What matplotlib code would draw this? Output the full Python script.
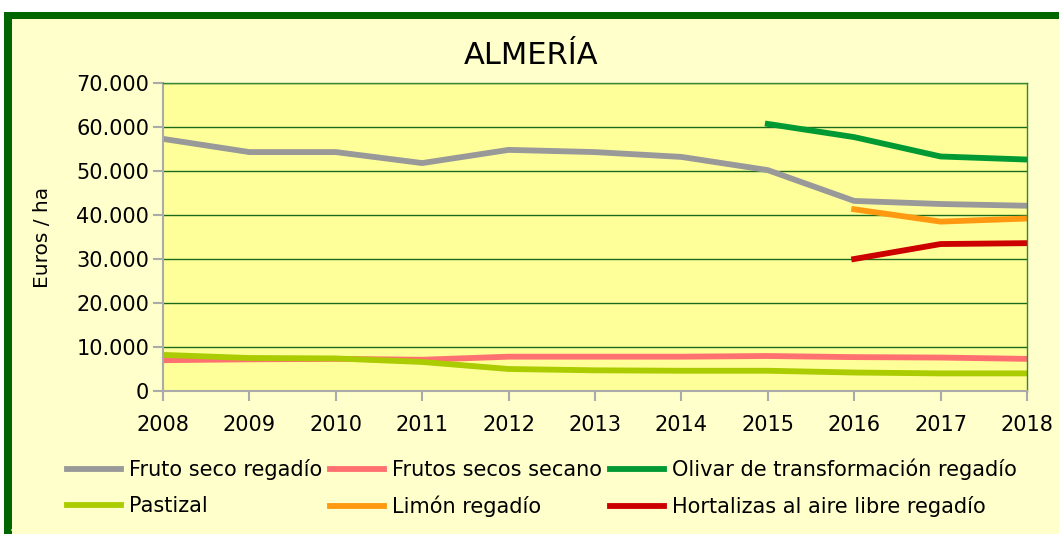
import matplotlib.pyplot as plt
from matplotlib.patches import Rectangle
from matplotlib.lines import Line2D
from matplotlib.ticker import FuncFormatter

# datos (euros / ha)
years = [2008, 2009, 2010, 2011, 2012, 2013, 2014, 2015, 2016, 2017, 2018]
fruto_seco_regadio = [57300, 54300, 54300, 51800, 54800, 54300, 53200, 50200, 43200, 42500, 42100]
frutos_secos_secano = [7000, 7200, 7300, 7100, 7800, 7800, 7800, 7950, 7700, 7600, 7300]
pastizal = [8200, 7500, 7400, 6600, 5000, 4700, 4600, 4600, 4200, 4000, 4000]
olivar_years = [2015, 2016, 2017, 2018]
olivar = [60700, 57700, 53300, 52600]
limon_years = [2016, 2017, 2018]
limon = [41300, 38500, 39200]
hortalizas_years = [2016, 2017, 2018]
hortalizas = [30000, 33400, 33600]

fig = plt.figure(figsize=(10.59, 5.34), dpi=100)
fig.patch.set_facecolor('white')

# marco verde del grafico
fig.patches.append(Rectangle((4 / 1059, -0.05), 1.1, 1 - 12 / 534 + 0.05,
                             transform=fig.transFigure, facecolor='#006600',
                             edgecolor='none', zorder=-2))
fig.patches.append(Rectangle((12 / 1059, -0.05), 1.1, 1 - 19 / 534 + 0.05,
                             transform=fig.transFigure, facecolor='#FFFFCC',
                             edgecolor='none', zorder=-1))
fig.lines.append(Line2D([12 / 1059, 1], [4 / 534, 4 / 534], transform=fig.transFigure,
                        color='#99CC66', lw=1.5, zorder=-1))

ax = fig.add_axes([163 / 1059, 1 - 391 / 534, 864 / 1059, 308 / 534])
ax.set_zorder(2)
ax.set_facecolor('#FFFF99')

lw = 4.2
l1, = ax.plot(years, fruto_seco_regadio, color='#999999', lw=lw, label='Fruto seco regadío')
l2, = ax.plot(years, frutos_secos_secano, color='#FF7070', lw=lw, label='Frutos secos secano')
l3, = ax.plot(olivar_years, olivar, color='#009933', lw=lw, label='Olivar de transformación regadío')
l4, = ax.plot(years, pastizal, color='#AACC00', lw=lw, label='Pastizal')
l5, = ax.plot(limon_years, limon, color='#FF9911', lw=lw, label='Limón regadío')
l6, = ax.plot(hortalizas_years, hortalizas, color='#CC0000', lw=lw, label='Hortalizas al aire libre regadío')

ax.set_xlim(2008, 2018)
ax.set_ylim(0, 70000)
ax.set_xticks(years)
ax.set_yticks(range(0, 70001, 10000))
ax.yaxis.set_major_formatter(FuncFormatter(lambda v, p: f'{int(v):,}'.replace(',', '.')))
ax.grid(axis='y', color='#1B6B1B', lw=1)
ax.set_axisbelow(True)

for s in ['left', 'bottom']:
    ax.spines[s].set_color('#AAAAAA')
    ax.spines[s].set_linewidth(1.5)
for s in ['top', 'right']:
    ax.spines[s].set_color('#338833')
    ax.spines[s].set_linewidth(1)

ax.tick_params(axis='both', colors='#AAAAAA', labelcolor='black', labelsize=15, width=1.5)
ax.tick_params(axis='y', length=7, pad=3)
ax.tick_params(axis='x', length=7, pad=10)

ax.set_ylabel('Euros / ha', fontsize=14.5)
ax.yaxis.set_label_coords(-0.128, 0.5)

fig.text(531 / 1059, 1 - 55 / 534, 'ALMERÍA', ha='center', va='center',
         fontsize=22, fontweight='medium')

handles = [l1, l4, l2, l5, l3, l6]
leg = fig.legend(handles=handles, labels=[h.get_label() for h in handles],
                 ncol=3, loc='upper left', bbox_to_anchor=(48 / 1059, 1 - 440 / 534),
                 frameon=False, fontsize=15, handlelength=2.6, handletextpad=0.4,
                 columnspacing=0.35, labelspacing=0.75)
leg.set_zorder(3)

fig.savefig('out.png', dpi=100)
